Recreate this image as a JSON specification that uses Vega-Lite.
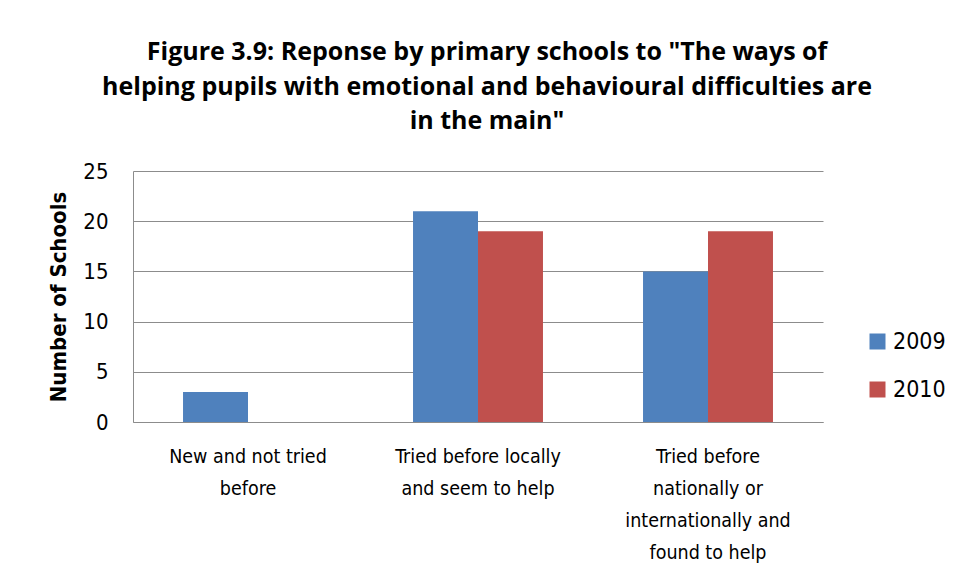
{
  "$schema": "https://vega.github.io/schema/vega-lite/v6.json",
  "width": 690,
  "height": 251,
  "padding": {"left": 47, "top": 40, "right": 5, "bottom": 5},
  "background": "white",
  "config": {
    "font": "DejaVu Sans Condensed, Lato, sans-serif",
    "view": {"stroke": null}
  },
  "title": {
    "text": ["Figure 3.9: Reponse by primary schools  to \"The ways of", "helping pupils with emotional and behavioural difficulties are", "in the main\""],
    "fontSize": 25,
    "fontWeight": "bold",
    "font": "Open Sans",
    "lineHeight": 34.5,
    "color": "black",
    "anchor": "middle",
    "dx": 9,
    "offset": 26
  },
  "data": {
    "values": [
      {"category": "New and not tried before", "year": "2009", "schools": 3},
      {"category": "New and not tried before", "year": "2010", "schools": 0},
      {"category": "Tried before locally and seem to help", "year": "2009", "schools": 21},
      {"category": "Tried before locally and seem to help", "year": "2010", "schools": 19},
      {"category": "Tried before nationally or internationally and found to help", "year": "2009", "schools": 15},
      {"category": "Tried before nationally or internationally and found to help", "year": "2010", "schools": 19}
    ]
  },
  "mark": {"type": "bar"},
  "encoding": {
    "x": {
      "field": "category",
      "type": "nominal",
      "sort": null,
      "scale": {"paddingInner": 0.435, "paddingOuter": 0.2175},
      "axis": {
        "title": null,
        "labelAngle": 0,
        "labelFontSize": 19.5,
        "labelColor": "black",
        "labelPadding": 25,
        "labelLineHeight": 32,
        "labelBaseline": "top",
        "labelLimit": 0,
        "ticks": false,
        "domainColor": "#8c8c8c",
        "labelExpr": "datum.value == 'New and not tried before' ? ['New and not tried', 'before'] : datum.value == 'Tried before locally and seem to help' ? ['Tried before locally', 'and seem to help'] : ['Tried before', 'nationally or', 'internationally and', 'found to help']"
      }
    },
    "xOffset": {"field": "year", "type": "nominal"},
    "y": {
      "field": "schools",
      "type": "quantitative",
      "scale": {"domain": [0, 25]},
      "axis": {
        "title": "Number of Schools",
        "titleFontSize": 22,
        "titleFontWeight": "bold",
        "titleColor": "black",
        "titlePadding": 12,
        "values": [0, 5, 10, 15, 20, 25],
        "labelFontSize": 22,
        "labelColor": "black",
        "labelPadding": 25,
        "ticks": false,
        "domainColor": "#8c8c8c",
        "gridColor": "#8c8c8c",
        "gridOpacity": 1
      }
    },
    "color": {
      "field": "year",
      "type": "nominal",
      "scale": {"domain": ["2009", "2010"], "range": ["#4F81BD", "#C0504D"]},
      "legend": {
        "title": null,
        "orient": "none",
        "legendX": 733,
        "legendY": 159,
        "symbolType": "square",
        "symbolSize": 256,
        "symbolStrokeWidth": 0,
        "labelFontSize": 23,
        "labelColor": "black",
        "rowPadding": 24,
        "labelOffset": 4
      }
    }
  }
}
